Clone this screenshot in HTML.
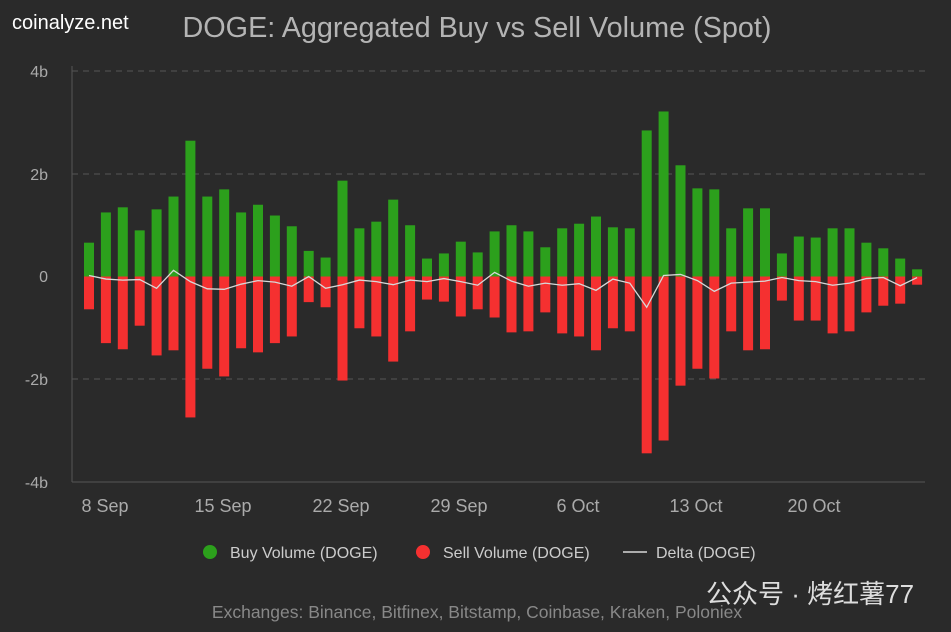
<!DOCTYPE html>
<html><head><meta charset="utf-8"><style>
html,body{margin:0;padding:0;background:#2a2a2a;}
svg{display:block;font-family:"Liberation Sans","Noto Sans CJK SC",sans-serif;}
</style></head><body>
<svg width="951" height="632" viewBox="0 0 951 632" xmlns="http://www.w3.org/2000/svg">
<rect width="951" height="632" fill="#2a2a2a"/>
<text x="12" y="29" font-size="20" fill="#ffffff">coinalyze.net</text>
<text x="477" y="37" font-size="28.8" fill="#b4b4b4" text-anchor="middle">DOGE: Aggregated Buy vs Sell Volume (Spot)</text>
<g stroke="#555" stroke-dasharray="6,5" stroke-width="1">
<line x1="72" x2="925" y1="71" y2="71"/>
<line x1="72" x2="925" y1="174" y2="174"/>
<line x1="72" x2="925" y1="379" y2="379"/>
</g>
<line x1="72" x2="925" y1="482" y2="482" stroke="#555"/>
<line x1="72" x2="72" y1="66" y2="482" stroke="#555"/>
<g font-size="16" fill="#aaaaaa" text-anchor="end">
<text x="48" y="77">4b</text><text x="48" y="180">2b</text><text x="48" y="282">0</text>
<text x="48" y="385">-2b</text><text x="48" y="488">-4b</text>
</g>
<g font-size="18" fill="#aaaaaa" text-anchor="middle">
<text x="105" y="512">8 Sep</text><text x="223" y="512">15 Sep</text><text x="341" y="512">22 Sep</text>
<text x="459" y="512">29 Sep</text><text x="578" y="512">6 Oct</text><text x="696" y="512">13 Oct</text>
<text x="814" y="512">20 Oct</text>
</g>
<g id="bars"></g>
<polyline id="delta" fill="none" stroke="#d8d8d8" stroke-width="1.3"/>
<circle cx="210" cy="552" r="7" fill="#2ca01c"/>
<text x="230" y="558" font-size="16" fill="#cccccc">Buy Volume (DOGE)</text>
<circle cx="423" cy="552" r="7" fill="#f53030"/>
<text x="443" y="558" font-size="16" fill="#cccccc">Sell Volume (DOGE)</text>
<line x1="623" x2="647" y1="552" y2="552" stroke="#d8d8d8" stroke-width="1.5"/>
<text x="656" y="558" font-size="16" fill="#cccccc">Delta (DOGE)</text>
<text x="706" y="603" font-size="26" fill="#dddddd">公众号 · 烤红薯77</text>
<text x="477" y="618" font-size="17.5" fill="#888888" text-anchor="middle">Exchanges: Binance, Bitfinex, Bitstamp, Coinbase, Kraken, Poloniex</text>
</svg>
<script>
var buy=[0.66,1.25,1.35,0.9,1.31,1.56,2.65,1.56,1.7,1.25,1.4,1.19,0.98,0.5,0.37,1.87,0.94,1.07,1.5,1.0,0.35,0.45,0.68,0.47,0.88,1.0,0.88,0.57,0.94,1.03,1.17,0.96,0.94,2.85,3.22,2.17,1.72,1.7,0.94,1.33,1.33,0.45,0.78,0.76,0.94,0.94,0.66,0.55,0.35,0.14];
var sell=[0.64,1.3,1.42,0.96,1.54,1.44,2.75,1.8,1.95,1.4,1.48,1.3,1.17,0.5,0.6,2.03,1.01,1.17,1.66,1.07,0.45,0.49,0.78,0.64,0.8,1.09,1.07,0.7,1.11,1.17,1.44,1.01,1.07,3.45,3.2,2.13,1.8,1.99,1.07,1.44,1.42,0.47,0.86,0.86,1.11,1.07,0.7,0.57,0.53,0.16];
var ns="http://www.w3.org/2000/svg",g=document.getElementById('bars'),pts=[];
var z=276.5,s=51.25;
for(var i=0;i<buy.length;i++){
 var cx=89+i*16.9;
 var r=document.createElementNS(ns,'rect');
 r.setAttribute('x',cx-5);r.setAttribute('width',10);r.setAttribute('y',z-buy[i]*s);r.setAttribute('height',buy[i]*s);r.setAttribute('fill','#2ca01c');g.appendChild(r);
 r=document.createElementNS(ns,'rect');
 r.setAttribute('x',cx-5);r.setAttribute('width',10);r.setAttribute('y',z);r.setAttribute('height',sell[i]*s);r.setAttribute('fill','#f53030');g.appendChild(r);
 pts.push(cx+','+(z-(buy[i]-sell[i])*s));
}
document.getElementById('delta').setAttribute('points',pts.join(' '));
</script>
</body></html>
